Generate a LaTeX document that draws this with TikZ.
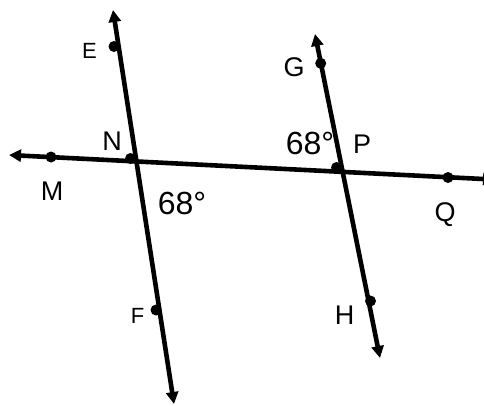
\documentclass[tikz,border=0pt]{standalone}
\usepackage{fontspec}
\setmainfont{Liberation Sans}
\usetikzlibrary{arrows.meta}
\begin{document}
\begin{tikzpicture}[x=1pt,y=-1pt,
  tip/.tip={Triangle[length=12pt,width=12pt]},
  ln/.style={line width=4.6pt,{tip}-{tip}},
  pt/.style={circle,fill=black,inner sep=0pt,minimum size=11pt},
  lbl/.style={font=\fontsize{27}{27}\selectfont,inner sep=0pt,anchor=base},
  sm/.style={font=\fontsize{22}{22}\selectfont,inner sep=0pt,anchor=base},
  ang/.style={font=\fontsize{32}{32}\selectfont,inner sep=0pt,anchor=base}]
\useasboundingbox (0,0) rectangle (484,405);
\clip (0,0) rectangle (484,405);
% line end points
\coordinate (e1) at (113,10);
\coordinate (f1) at (174,404);
\coordinate (m1) at (9,155);
\coordinate (q1) at (495,179.6);
\coordinate (g1) at (315,34);
\coordinate (h1) at (380,358);
% lines
\draw[ln] (m1) -- (q1);
\draw[ln] (e1) -- (f1);
\draw[ln] (g1) -- (h1);
% points
\node[pt] (E) at (114,46.5) {};
\node[pt] (F) at (156,310) {};
\node[pt] (M) at (51,157) {};
\node[pt] (Q) at (448,177.5) {};
\node[pt] (G) at (320.7,63.3) {};
\node[pt] (H) at (370.5,301) {};
\node[pt] (N) at (130.5,158.5) {};
\node[pt] (P) at (336.5,167.5) {};
% labels
\node[sm] (lE) at (89.5,58.5) {E};
\node[sm] (lF) at (137.7,323.5) {F};
\node[lbl] (lN) at (112,150.5) {N};
\node[lbl] (lM) at (52,200.5) {M};
\node[lbl] (lG) at (294,76.5) {G};
\node[lbl] (lP) at (362,153.5) {P};
\node[lbl] (lQ) at (445,221) {Q};
\node[lbl] (lH) at (344.5,324) {H};
\node[ang] (a1) at (182,214.5) {68°};
\node[ang] (a2) at (310,154.5) {68°};
\end{tikzpicture}
\end{document}
